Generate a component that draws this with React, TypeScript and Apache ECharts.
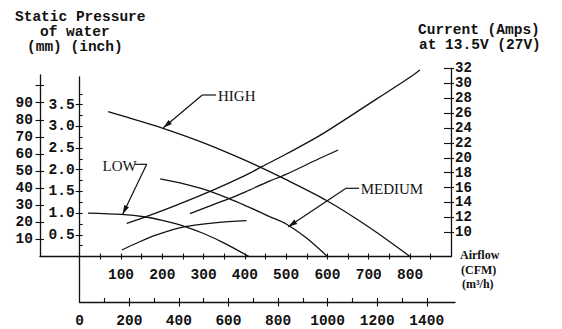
import React, { useEffect, useRef } from "react";
import * as echarts from "echarts";

// ---- data ----
// Static pressure curves (x: airflow CFM, y: inch of water)
const highPressureFlow = [69, 100, 200, 300, 400, 500, 600, 700, 800];
const highPressure = [3.34, 3.25, 2.96, 2.62, 2.22, 1.77, 1.28, 0.68, 0];
const mediumPressureFlow = [195, 250, 300, 360, 400, 460, 500, 550, 600];
const mediumPressure = [1.79, 1.68, 1.55, 1.34, 1.18, 0.92, 0.75, 0.42, 0];
const lowPressureFlow = [20, 100, 160, 200, 255, 300, 350, 410];
const lowPressure = [1.0, 0.97, 0.91, 0.83, 0.69, 0.53, 0.31, 0];

// Current curves (x: airflow CFM, y: amps)
const highCurrentFlow = [114, 158, 200, 316, 400, 441, 500, 582, 700, 800, 824];
const highCurrent = [11.2, 12.05, 12.9, 15.5, 17.6, 18.8, 20.5, 23.0, 27.2, 30.8, 31.77];
const mediumCurrentFlow = [267, 300, 360, 400, 461, 497, 578, 626];
const mediumCurrent = [12.5, 13.2, 14.47, 15.4, 16.9, 17.7, 19.83, 21.04];
const lowCurrentFlow = [102, 140, 186, 255, 332, 404];
const lowCurrent = [7.63, 8.6, 9.64, 10.75, 11.29, 11.56];

// Tick values
const cfmLabels = [100, 200, 300, 400, 500, 600, 700, 800];
const cfmTicks = [50, 100, 150, 200, 250, 300, 350, 400, 450, 500, 550, 600, 650, 700, 750, 800, 850];
const m3hLabels = [0, 200, 400, 600, 800, 1000, 1200, 1400];
const m3hMajor = [200, 400, 600, 800, 1000, 1200, 1400];
const m3hMinor = [100, 200, 300, 400, 500, 600, 700, 800, 900, 1000, 1100, 1200, 1300, 1400];
const inchLabels = [0.5, 1.0, 1.5, 2.0, 2.5, 3.0, 3.5];
const inchMinor = [0.25, 0.75, 1.25, 1.75, 2.25, 2.75, 3.25, 3.75];
const mmLabels = [10, 20, 30, 40, 50, 60, 70, 80, 90];
const mmTicks = [10, 20, 30, 40, 50, 60, 70, 80, 90, 100];
const ampLabels = [10, 12, 14, 16, 18, 20, 22, 24, 26, 28, 30, 32];

const zip = (xs: number[], ys: number[]) => xs.map((x, i) => [x, ys[i]]);

const MONO = '"Liberation Mono", "DejaVu Sans Mono", monospace';
const SERIF = '"Liberation Serif", "DejaVu Serif", serif';
const INK = "#111";

function arrowHead(fx: number, fy: number, tx: number, ty: number, len = 9, half = 2.6) {
  const dx = tx - fx, dy = ty - fy;
  const d = Math.hypot(dx, dy);
  const ux = dx / d, uy = dy / d;
  const bx = tx - ux * len, by = ty - uy * len;
  return {
    type: "polygon",
    shape: { points: [[tx, ty], [bx - uy * half, by + ux * half], [bx + uy * half, by - ux * half]] },
    style: { fill: INK },
    silent: true,
  };
}

function leader(label: string, tx: number, ty: number, hx: number, hy: number, tipX: number, tipY: number, hEnd: number) {
  return [
    { type: "line", shape: { x1: hx, y1: hy, x2: hEnd, y2: hy }, style: { stroke: INK, lineWidth: 1.2 }, silent: true },
    { type: "line", shape: { x1: hx, y1: hy, x2: tipX, y2: tipY }, style: { stroke: INK, lineWidth: 1.2 }, silent: true },
    arrowHead(hx, hy, tipX, tipY),
    {
      type: "text",
      style: { text: label, x: tx, y: ty, fill: INK, font: `15px ${SERIF}`, textAlign: "left", textVerticalAlign: "middle" },
      silent: true,
    },
  ];
}

function monoText(text: string, x: number, y: number, size = 14.5) {
  return {
    type: "text",
    style: { text, x, y, fill: INK, font: `bold ${size}px ${MONO}`, textAlign: "left", textVerticalAlign: "middle" },
    silent: true,
  };
}

function serifText(text: string, x: number, y: number, size = 12) {
  return {
    type: "text",
    style: { text, x, y, fill: INK, font: `bold ${size}px ${SERIF}`, textAlign: "left", textVerticalAlign: "middle" },
    silent: true,
  };
}

export default function App() {
  const ref = useRef<HTMLDivElement>(null);

  useEffect(() => {
    if (!ref.current) return;
    const chart = echarts.init(ref.current, null, { renderer: "svg" });

    const W = 562, H = 329;
    const xCfm0 = 79.7, xAxisEnd = 451, yBase = 256.5;
    const cfmMax = (xAxisEnd - xCfm0) / 0.4129;
    const inchTop = 77;
    const inchMax = (yBase - inchTop) / 43.4;
    const mmTop = 75;
    const mmMax = (yBase - mmTop) / (43.4 / 25.4);
    const ampTop = 68.3;
    const ampPx = (232.3 - 68.3) / 22;
    const ampMin = 10 - (yBase - 232.3) / ampPx;
    const m3hBase = 302, m3hEnd = 455;
    const m3hMax = (m3hEnd - xCfm0) / 0.2479;

    const axisLine = { show: true, onZero: false, lineStyle: { color: INK, width: 1.3 } };
    const noLine = { show: false, onZero: false };
    const tickStyle = { color: INK, width: 1.1 };
    const labelFont = { color: INK, fontFamily: MONO, fontSize: 14.5, fontWeight: "bold" as const };
    const plain = (v: number) => String(v);

    const lineSeries = (name: string, xs: number[], ys: number[], xi: number, yi: number) => ({
      name,
      type: "line",
      xAxisIndex: xi,
      yAxisIndex: yi,
      data: zip(xs, ys),
      smooth: 0.3,
      showSymbol: false,
      symbol: "none",
      lineStyle: { color: INK, width: 1.3 },
      silent: true,
    });

    chart.setOption({
      animation: false,
      backgroundColor: "#fff",
      grid: [
        { left: xCfm0, right: W - xAxisEnd, top: inchTop, bottom: H - yBase },
        { left: xCfm0, right: W - xAxisEnd, top: ampTop, bottom: H - yBase },
        { left: 40, right: W - xCfm0, top: mmTop, bottom: H - yBase },
        { left: xCfm0, right: W - m3hEnd, top: yBase, bottom: H - m3hBase },
      ],
      xAxis: [
        {
          type: "value", gridIndex: 0, position: "bottom", min: 0, max: cfmMax,
          axisLine,
          axisTick: { show: true, customValues: cfmTicks, length: 3, lineStyle: tickStyle },
          axisLabel: { show: true, customValues: cfmLabels, margin: 11, formatter: plain, ...labelFont },
          splitLine: { show: false },
        },
        {
          type: "value", gridIndex: 0, position: "bottom", offset: 0, min: 0, max: cfmMax,
          axisLine: noLine,
          axisTick: { show: true, inside: true, customValues: cfmTicks, length: 3, lineStyle: tickStyle },
          axisLabel: { show: false },
          splitLine: { show: false },
        },
        { type: "value", gridIndex: 1, min: 0, max: cfmMax, show: false },
        {
          type: "value", gridIndex: 2, min: 0, max: 1, position: "bottom",
          axisLine, axisTick: { show: false }, axisLabel: { show: false }, splitLine: { show: false },
        },
        {
          type: "value", gridIndex: 3, position: "bottom", min: 0, max: m3hMax,
          axisLine,
          axisTick: { show: true, customValues: m3hMajor, length: 4.5, lineStyle: tickStyle },
          axisLabel: { show: true, customValues: m3hLabels, margin: 11, formatter: plain, ...labelFont },
          splitLine: { show: false },
        },
        {
          type: "value", gridIndex: 3, position: "bottom", offset: 0, min: 0, max: m3hMax,
          axisLine: noLine,
          axisTick: { show: true, inside: true, customValues: m3hMinor, length: 4, lineStyle: tickStyle },
          axisLabel: { show: false },
          splitLine: { show: false },
        },
      ],
      yAxis: [
        {
          type: "value", gridIndex: 0, position: "left", min: 0, max: inchMax,
          axisLine,
          axisTick: { show: true, customValues: inchLabels, length: 4, lineStyle: tickStyle },
          axisLabel: { show: true, customValues: inchLabels, margin: 5, formatter: (v: number) => v.toFixed(1), ...labelFont },
          splitLine: { show: false },
        },
        {
          type: "value", gridIndex: 0, position: "left", offset: 0, min: 0, max: inchMax,
          axisLine: noLine,
          axisTick: { show: true, inside: true, customValues: [...inchLabels, ...inchMinor], length: 3, lineStyle: tickStyle },
          axisLabel: { show: false },
          splitLine: { show: false },
        },
        {
          type: "value", gridIndex: 1, position: "right", min: ampMin, max: 32,
          axisLine,
          axisTick: { show: true, customValues: ampLabels, length: 3, lineStyle: tickStyle },
          axisLabel: { show: true, customValues: ampLabels, margin: 4, formatter: plain, ...labelFont, fontSize: 14 },
          splitLine: { show: false },
        },
        {
          type: "value", gridIndex: 1, position: "right", offset: 0, min: ampMin, max: 32,
          axisLine: noLine,
          axisTick: { show: true, inside: true, customValues: ampLabels, length: 7, lineStyle: tickStyle },
          axisLabel: { show: false },
          splitLine: { show: false },
        },
        {
          type: "value", gridIndex: 2, position: "left", min: 0, max: mmMax,
          axisLine,
          axisTick: { show: true, customValues: mmTicks, length: 4.5, lineStyle: tickStyle },
          axisLabel: { show: true, customValues: mmLabels, margin: 7, formatter: plain, ...labelFont },
          splitLine: { show: false },
        },
        {
          type: "value", gridIndex: 2, position: "left", offset: 0, min: 0, max: mmMax,
          axisLine: noLine,
          axisTick: { show: true, inside: true, customValues: mmTicks, length: 4, lineStyle: tickStyle },
          axisLabel: { show: false },
          splitLine: { show: false },
        },
        {
          type: "value", gridIndex: 3, position: "left", min: 0, max: 1,
          axisLine, axisTick: { show: false }, axisLabel: { show: false }, splitLine: { show: false },
        },
      ],
      series: [
        lineSeries("HIGH pressure", highPressureFlow, highPressure, 0, 0),
        lineSeries("MEDIUM pressure", mediumPressureFlow, mediumPressure, 0, 0),
        lineSeries("LOW pressure", lowPressureFlow, lowPressure, 0, 0),
        lineSeries("HIGH current", highCurrentFlow, highCurrent, 2, 2),
        lineSeries("MEDIUM current", mediumCurrentFlow, mediumCurrent, 2, 2),
        lineSeries("LOW current", lowCurrentFlow, lowCurrent, 2, 2),
      ],
      graphic: [
        monoText("Static Pressure", 15, 16.5),
        monoText("of water", 40, 32),
        monoText("(mm) (inch)", 27, 47),
        monoText("Current (Amps)", 418, 29.5),
        monoText("at 13.5V (27V)", 419, 45),
        serifText("Airflow", 460, 255),
        serifText("(CFM)", 461, 270),
        serifText("(m³/h)", 462, 283.5),
        ...leader("HIGH", 218, 96, 202.3, 95, 163.3, 127.7, 216),
        ...leader("LOW", 102.5, 166, 146.7, 164.3, 122.7, 214.3, 134.3),
        ...leader("MEDIUM", 360.7, 189, 346, 188.3, 288.3, 226.7, 359),
      ],
    });

    return () => chart.dispose();
  }, []);

  return (
    <div
      ref={ref}
      style={{ position: "fixed", left: 0, top: 0, width: 562, height: 329, background: "#fff" }}
    />
  );
}
